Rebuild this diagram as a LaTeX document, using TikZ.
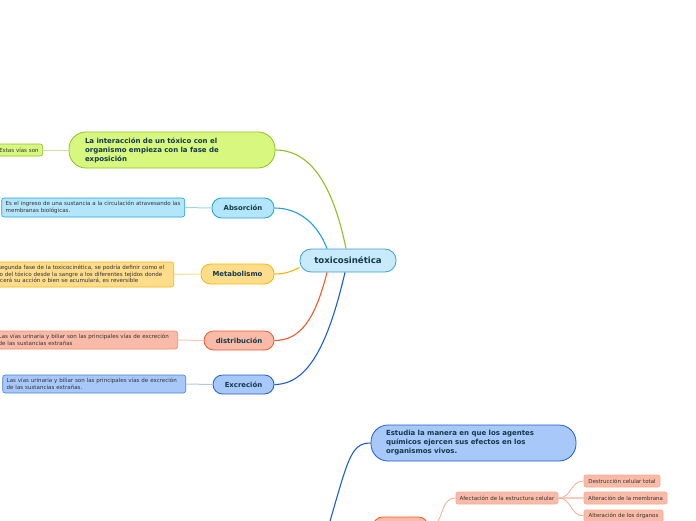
\documentclass[tikz,border=0pt]{standalone}
\usepackage{fontspec}
\setmainfont{DejaVu Sans}
\definecolor{txt}{HTML}{12394A}
\definecolor{ntxt}{HTML}{333333}
\definecolor{cfill}{HTML}{C8EAFB}\definecolor{cdraw}{HTML}{3C9FD7}
\definecolor{gfill}{HTML}{D7F77F}\definecolor{gdraw}{HTML}{8DC21F}
\definecolor{bfill}{HTML}{B4E6FB}\definecolor{bdraw}{HTML}{1EA0DC}
\definecolor{yfill}{HTML}{FDDC8C}\definecolor{ydraw}{HTML}{F5B800}
\definecolor{ofill}{HTML}{F9BBA8}\definecolor{odraw}{HTML}{F05A28}
\definecolor{dfill}{HTML}{A7C8F9}\definecolor{ddraw}{HTML}{1A5FD0}
\definecolor{sline}{HTML}{F7A98F}
\tikzset{
  mainbox/.style={draw, line width=0.8pt, rounded corners=9.5pt, inner sep=0pt, text=txt,
    font=\bfseries\fontsize{6.9}{9}\selectfont, align=center},
  bigbox/.style={draw, line width=0.8pt, rounded corners=17pt, inner sep=0pt, text=txt,
    font=\bfseries\fontsize{7}{9}\selectfont, align=left},
  notebox/.style={draw, line width=0.6pt, rounded corners=2.5pt, inner xsep=4pt, inner ysep=2pt,
    text=ntxt, font=\fontsize{5.55}{6.5}\selectfont, align=left},
  smallbox/.style={draw=sline, fill=ofill, line width=0.6pt, rounded corners=2pt, inner sep=0pt,
    text=ntxt, font=\fontsize{5.5}{6}\selectfont, minimum height=12pt},
  conn/.style={line width=1.1pt},
  nconn/.style={line width=1pt},
}
\begin{document}
\begin{tikzpicture}[x=1pt,y=-1pt]
\useasboundingbox (0,0) rectangle (696,520);
% central
\node[mainbox, fill=cfill, draw=cdraw, minimum width=96pt, minimum height=23pt, rounded corners=11pt,
  font=\bfseries\fontsize{8.6}{9}\selectfont] (c) at (348,260.5) {toxicosinética};
% green
\node[bigbox, fill=gfill, draw=gdraw, minimum width=206pt, minimum height=36pt, text width=174pt] (g) at (172,150)
  {La interacción de un tóxico con el\\organismo empieza con la fase de\\exposición};
\node[notebox, fill=gfill, draw=gdraw, anchor=east, minimum height=12pt] (gn) at (43,150) {Estas vías son};
% absorcion
\node[mainbox, fill=bfill, draw=bdraw, minimum width=62pt, minimum height=20pt] (a) at (243,208) {Absorción};
\node[notebox, fill=bfill, draw=bdraw, anchor=east, minimum height=19pt, text width=175pt] (an) at (185,207.5)
  {Es el ingreso de una sustancia a la circulación atravesando las\\membranas biológicas.};
% metabolismo
\node[mainbox, fill=yfill, draw=ydraw, minimum width=73pt, minimum height=20pt] (m) at (237.5,274) {Metabolismo};
\node[notebox, fill=yfill, draw=ydraw, anchor=east, minimum height=25pt, text width=180pt] (mn) at (174,274.5)
  {La segunda fase de la toxicocinética, se podría definir como el\\paso del tóxico desde la sangre a los diferentes tejidos donde\\ejercerá su acción o bien se acumulará, es reversible};
% distribucion
\node[mainbox, fill=ofill, draw=odraw, minimum width=70pt, minimum height=19pt] (d) at (239,340.5) {distribución};
\node[notebox, fill=ofill, draw=odraw!70, anchor=east, minimum height=18pt, text width=175pt] (dn) at (178,340)
  {Las vías urinaria y biliar son las principales vías de excreción\\de las sustancias extrañas};
% excrecion
\node[mainbox, fill=dfill, draw=ddraw, minimum width=61pt, minimum height=19pt] (e) at (243.5,384.5) {Excreción};
\node[notebox, fill=dfill, draw=ddraw!80, anchor=east, minimum height=18pt, text width=175pt] (en) at (186,384)
  {Las vías urinaria y biliar son las principales vías de excreción\\de las sustancias extrañas.};
% bottom blue
\node[bigbox, fill=dfill, draw=ddraw, minimum width=205pt, minimum height=36pt, text width=175pt] (b) at (473.5,443)
  {Estudia la manera en que los agentes\\químicos ejercen sus efectos en los\\organismos vivos.};
\coordinate (broot) at (326,535);
% bottom salmon
\node[mainbox, fill=ofill, draw=odraw, minimum width=55pt, minimum height=20pt] (s) at (400.5,527) {};
\node[smallbox, minimum width=102pt] (af) at (507,498) {Afectación de la estructura celular};
\node[smallbox, minimum width=76pt] (s1) at (622,481) {Destrucción celular total};
\node[smallbox, minimum width=83pt] (s2) at (625.5,498) {Alteración de la membrana};
\node[smallbox, minimum width=79pt] (s3) at (623.5,516) {Alteración de los órganos};
% connectors from central
\draw[conn, gdraw] ([xshift=-2pt]c.north) .. controls (332,180) and (308,150) .. (g.east);
\draw[conn, bdraw] ([xshift=-21pt]c.north) .. controls (318,225) and (300,208) .. (a.east);
\draw[conn, ydraw] ([yshift=-7pt]c.west) .. controls (292,271) and (286,274) .. (m.east);
\draw[conn, odraw] ([xshift=-21pt]c.south) .. controls (315,320) and (300,340.5) .. (d.east);
\draw[conn, ddraw] ([xshift=-3pt]c.south) .. controls (328,345) and (308,384.5) .. (e.east);
% note connectors
\draw[nconn, gdraw!45] (g.west) -- (gn.east);
\draw[nconn, bdraw!45] (a.west) -- (an.east);
\draw[nconn, ydraw!45] (m.west) -- (mn.east);
\draw[nconn, odraw!35] (d.west) -- (dn.east);
\draw[nconn, ddraw!35] (e.west) -- (en.east);
% bottom connectors
\draw[conn, ddraw] (broot) .. controls (348,460) and (350,443) .. (b.west);
\draw[line width=0.8pt, sline] (s.east) .. controls (445,527) and (438,498) .. (af.west);
\draw[line width=0.8pt, sline] (af.east) .. controls (572,498) and (570,481) .. (s1.west);
\draw[line width=1.4pt, sline!60] (af.east) -- (s2.west);
\draw[line width=0.8pt, sline] (af.east) .. controls (572,498) and (570,516) .. (s3.west);
\end{tikzpicture}
\end{document}
